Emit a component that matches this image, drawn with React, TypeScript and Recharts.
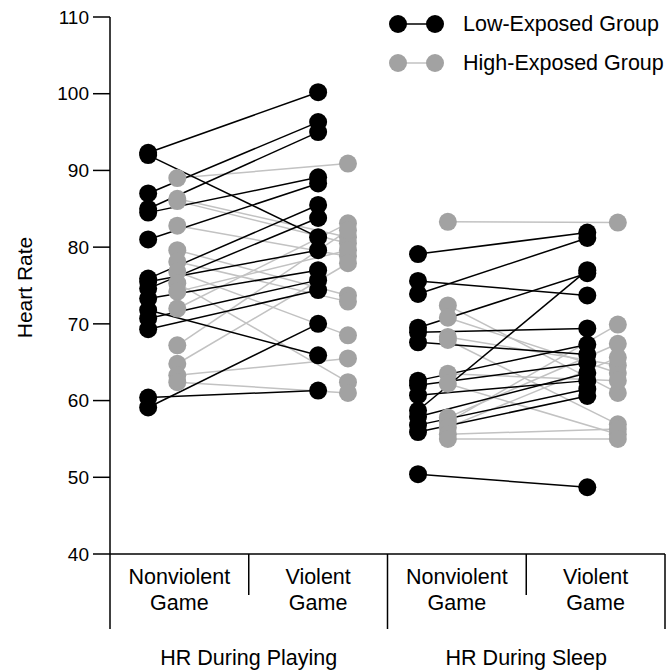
import React from 'react';
import { LineChart, Line, XAxis, YAxis, Legend } from 'recharts';

// ---- categories / labels ----
const CONDITIONS = ['Nonviolent Game', 'Violent Game'];
const PERIODS = ['HR During Playing', 'HR During Sleep'];
const Y_TICKS = [40, 50, 60, 70, 80, 90, 100, 110];
const GROUPS = ['Low-Exposed Group', 'High-Exposed Group'];

// ---- data (same index = same participant) ----
const lowPlayNonviolent = [92.3, 92.0, 87.0, 85.0, 84.5, 81.0, 75.9, 75.5, 74.6, 73.3, 71.8, 70.7, 69.3, 60.4, 59.1];
const lowPlayViolent = [100.2, 81.3, 96.3, 95.0, 89.1, 88.3, 85.5, 79.6, 83.8, 77.0, 65.9, 75.7, 74.4, 61.3, 70.0];

const highPlayNonviolent = [89.0, 86.3, 86.0, 82.8, 79.6, 78.1, 76.8, 75.3, 74.2, 72.0, 67.2, 64.8, 63.3, 62.4];
const highPlayViolent = [90.9, 81.3, 80.5, 78.8, 73.7, 72.9, 68.5, 62.4, 79.6, 83.1, 82.2, 77.9, 65.5, 61.0];

const lowSleepNonviolent = [79.1, 75.6, 73.9, 69.5, 68.9, 67.6, 62.6, 62.0, 60.7, 58.7, 57.9, 56.8, 55.9, 50.4];
const lowSleepViolent = [81.9, 73.7, 81.2, 76.6, 69.4, 66.0, 67.3, 64.9, 62.6, 77.0, 63.6, 61.5, 60.6, 48.7];

const highSleepNonviolent = [83.3, 72.4, 70.8, 68.3, 67.9, 63.5, 62.2, 57.8, 57.2, 56.5, 55.6, 55.0];
const highSleepViolent = [83.2, 61.0, 63.6, 64.6, 56.9, 62.6, 55.6, 67.4, 69.9, 65.6, 56.3, 55.0];

// ---- layout constants (x positions on a 0..4 category scale) ----
const LOW_X = [0.275, 1.5, 2.22, 3.44];
const HIGH_X = [0.485, 1.715, 2.435, 3.66];

const BLACK = '#000000';
const GRAY_DOT = '#a2a2a2';
const GRAY_LINE = '#c2c2c2';
const FONT = '"Liberation Sans", Arial, Helvetica, sans-serif';
const LABEL_SIZE = 21.5;

function makePairs(a: number[], b: number[], xa: number, xb: number) {
  return a.map((v, i) => [
    { x: xa, y: v },
    { x: xb, y: b[i] },
  ]);
}

const lowPairs = [
  ...makePairs(lowPlayNonviolent, lowPlayViolent, LOW_X[0], LOW_X[1]),
  ...makePairs(lowSleepNonviolent, lowSleepViolent, LOW_X[2], LOW_X[3]),
];
const highPairs = [
  ...makePairs(highPlayNonviolent, highPlayViolent, HIGH_X[0], HIGH_X[1]),
  ...makePairs(highSleepNonviolent, highSleepViolent, HIGH_X[2], HIGH_X[3]),
];

const XTick = (props: any) => {
  const { x, y, payload } = props;
  const v = payload.value as number;
  const idx2 = Math.round(v * 2);
  if (idx2 % 2 === 1) {
    const cond = CONDITIONS[((idx2 - 1) / 2) % 2];
    const parts = cond.split(' ');
    return (
      <g>
        <text x={x} y={y + 30} textAnchor="middle" fontSize={LABEL_SIZE} fill="#000" fontFamily={FONT}>{parts[0]}</text>
        <text x={x} y={y + 56} textAnchor="middle" fontSize={LABEL_SIZE} fill="#000" fontFamily={FONT}>{parts[1]}</text>
      </g>
    );
  }
  const k = idx2 / 2;
  if (k % 2 === 0) {
    return <line x1={x} x2={x} y1={y} y2={y + 75} stroke="#000" strokeWidth={1.5} />;
  }
  return (
    <g>
      <line x1={x} x2={x} y1={y} y2={y + 41} stroke="#000" strokeWidth={1.5} />
      <text x={x} y={y + 111} textAnchor="middle" fontSize={LABEL_SIZE} fill="#000" fontFamily={FONT}>{PERIODS[(k - 1) / 2]}</text>
    </g>
  );
};

const YLabel = (props: any) => {
  const vb = props.viewBox || { x: 0, y: 17, width: 110, height: 536 };
  const cx = 24;
  const cy = vb.y + vb.height / 2 + 2;
  return (
    <text x={cx} y={cy} transform={`rotate(-90, ${cx}, ${cy})`} textAnchor="middle" dominantBaseline="central" fontSize={21} fill="#000" fontFamily={FONT}>
      Heart Rate
    </text>
  );
};

const LegendContent = () => (
  <svg width={290} height={85} style={{ display: 'block' }}>
    {GROUPS.map((g, i) => {
      const cy = 24 + i * 39;
      const dot = i === 0 ? BLACK : GRAY_DOT;
      const ln = i === 0 ? BLACK : GRAY_LINE;
      return (
        <g key={g}>
          <line x1={18} x2={55} y1={cy} y2={cy} stroke={ln} strokeWidth={1.5} />
          <circle cx={18} cy={cy} r={9} fill={dot} />
          <circle cx={55} cy={cy} r={9} fill={dot} />
          <text x={83} y={cy + 7} fontSize={LABEL_SIZE} fill="#000" fontFamily={FONT}>{g}</text>
        </g>
      );
    })}
  </svg>
);

export default function App() {
  return (
    <div style={{ position: 'absolute', left: 0, top: 0, width: 670, height: 671, background: '#fff' }}>
      <LineChart width={670} height={671} margin={{ top: 17, right: 5, bottom: 7, left: 0 }} style={{ fontFamily: FONT }}>
        <XAxis
          type="number"
          dataKey="x"
          domain={[0, 4]}
          ticks={[0, 0.5, 1, 1.5, 2, 2.5, 3, 3.5, 4]}
          interval={0}
          height={110}
          tickLine={false}
          tickSize={0}
          tickMargin={0}
          axisLine={{ stroke: '#000', strokeWidth: 1.5 }}
          tick={<XTick />}
          allowDataOverflow
        />
        <YAxis
          type="number"
          domain={[40, 110]}
          ticks={Y_TICKS}
          interval={0}
          width={110}
          tickSize={17}
          tickMargin={4}
          axisLine={{ stroke: '#000', strokeWidth: 1.5 }}
          tickLine={{ stroke: '#000', strokeWidth: 1.5 }}
          tick={{ fill: '#000', fontSize: 19, fontFamily: FONT }}
          label={<YLabel />}
          allowDataOverflow
        />
        <Legend
          layout="vertical"
          align="center"
          verticalAlign="middle"
          width={290}
          content={<LegendContent />}
          wrapperStyle={{ left: 380, top: 0, width: 290, height: 85 }}
        />
        {highPairs.map((d, i) => (
          <Line
            key={'h' + i}
            data={d}
            dataKey="y"
            stroke={GRAY_LINE}
            strokeWidth={1.5}
            dot={{ r: 9, fill: GRAY_DOT, stroke: 'none' }}
            activeDot={false}
            isAnimationActive={false}
            legendType="none"
          />
        ))}
        {lowPairs.map((d, i) => (
          <Line
            key={'l' + i}
            data={d}
            dataKey="y"
            stroke={BLACK}
            strokeWidth={1.5}
            dot={{ r: 9, fill: BLACK, stroke: 'none' }}
            activeDot={false}
            isAnimationActive={false}
            legendType="none"
          />
        ))}
      </LineChart>
    </div>
  );
}
